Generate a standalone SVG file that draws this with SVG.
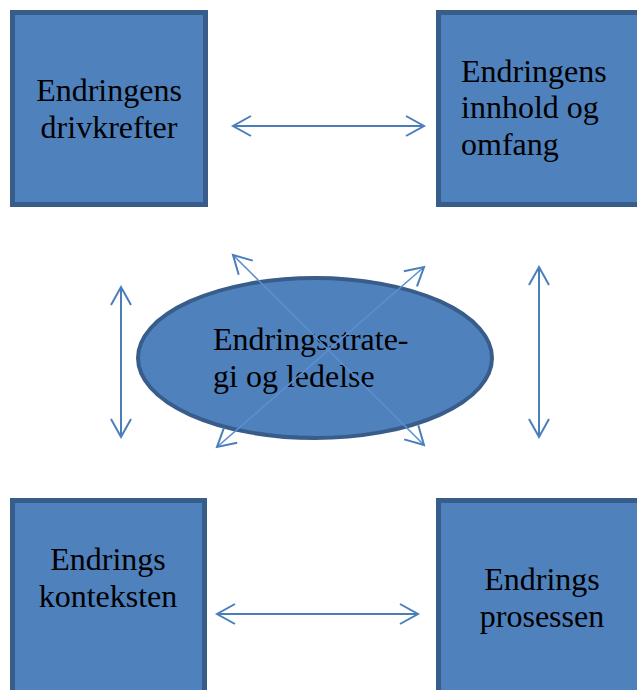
<svg xmlns="http://www.w3.org/2000/svg" width="637" height="690" viewBox="0 0 637 690">
  <style>
    .box { fill: #4F81BD; stroke: #385D8A; stroke-width: 5; }
    .oval { fill: #4F81BD; stroke: #385D8A; stroke-width: 4; }
    .lbl { font-family: "Liberation Serif", "Times New Roman", serif; font-size: 32px; fill: #000; }
    .mid { text-anchor: middle; }
    .conn { stroke: #4A7EBB; stroke-width: 2; fill: none; marker-start: url(#head); marker-end: url(#head); }
    .diag { stroke: #5B8FD0; stroke-width: 1.6; }
  </style>
  <defs>
    <marker id="head" markerUnits="userSpaceOnUse" orient="auto-start-reverse" refX="0" refY="0" markerWidth="40" markerHeight="40" overflow="visible">
      <path d="M-18,-10 L0,0 L-18,10" fill="none" stroke="#4A7EBB" stroke-width="2"/>
    </marker>
  </defs>

  <rect width="637" height="690" fill="#FFFFFF"/>

  <g id="drivkrefter">
    <rect class="box" x="12.5" y="12.5" width="193" height="192"/>
    <text class="lbl mid" x="109" y="101">Endringens</text>
    <text class="lbl mid" x="109" y="138">drivkrefter</text>
  </g>

  <g id="innhold">
    <rect class="box" x="438.5" y="12.5" width="210" height="192"/>
    <text class="lbl" x="461" y="82">Endringens</text>
    <text class="lbl" x="461" y="118">innhold og</text>
    <text class="lbl" x="461" y="155">omfang</text>
  </g>

  <g id="konteksten">
    <rect class="box" x="12.5" y="500.5" width="192" height="210"/>
    <text class="lbl mid" x="108" y="570">Endrings</text>
    <text class="lbl mid" x="108" y="607">konteksten</text>
  </g>

  <g id="prosessen">
    <rect class="box" x="438.5" y="500.5" width="210" height="210"/>
    <text class="lbl mid" x="542" y="590">Endrings</text>
    <text class="lbl mid" x="542" y="627">prosessen</text>
  </g>

  <g id="strategi">
    <ellipse class="oval" cx="315" cy="358" rx="177" ry="80"/>
    <text class="lbl" x="213" y="350">Endringsstrate-</text>
    <text class="lbl" x="213" y="387">gi og ledelse</text>
  </g>

  <g id="connectors">
    <line class="conn" x1="233" y1="126" x2="424" y2="126"/>
    <line class="conn" x1="217" y1="614" x2="418" y2="614"/>
    <line class="conn" x1="121" y1="287" x2="121" y2="437"/>
    <line class="conn" x1="539" y1="267" x2="539" y2="437"/>
    <line class="conn diag" x1="233" y1="255" x2="424" y2="445"/>
    <line class="conn diag" x1="424" y1="267" x2="217" y2="447"/>
  </g>
</svg>
